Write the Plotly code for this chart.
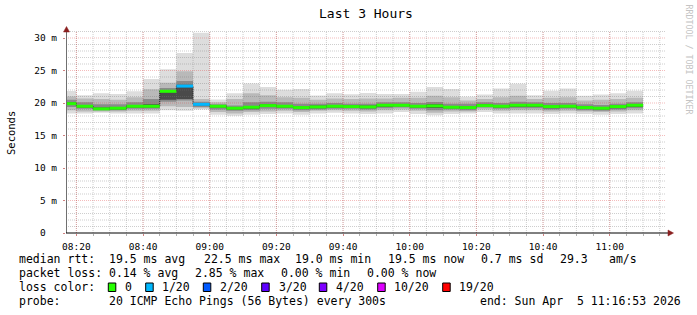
import plotly.graph_objects as go
import pandas as pd

# ---------------- data ----------------
first_step_start = "2026-04-05 08:15:00"
step = "5min"
view_start = "2026-04-05 08:16:53"
view_end = "2026-04-05 11:16:53"

median_ms = [19.9, 19.5, 19.1, 19.2, 19.5, 19.5, 21.8, 22.6, 19.8, 19.5,
             19.2, 19.35, 19.6, 19.5, 19.3, 19.4, 19.5, 19.45, 19.4, 19.65,
             19.65, 19.5, 19.55, 19.35, 19.3, 19.6, 19.5, 19.65, 19.65, 19.45,
             19.5, 19.3, 19.2, 19.45, 19.65]
loss_of_20 = [0, 0, 0, 0, 0, 0, 0, 1, 1, 0,
              0, 0, 0, 0, 0, 0, 0, 0, 0, 0,
              0, 0, 0, 0, 0, 0, 0, 0, 0, 0,
              0, 0, 0, 0, 0]
ping_min_ms = [18.4, 18.4, 18.5, 18.4, 18.4, 18.4, 18.9, 18.8, 19.0, 18.2,
               18.05, 18.2, 18.3, 18.4, 18.2, 18.4, 18.5, 18.4, 18.3, 18.4,
               18.6, 18.3, 18.1, 18.3, 18.4, 18.6, 18.4, 18.4, 18.4, 18.3,
               18.4, 18.3, 18.2, 18.3, 18.4]
ping_max_ms = [21.85, 21.2, 21.5, 21.4, 21.8, 23.7, 25.2, 27.7, 30.8, 20.55,
               21.5, 23.0, 22.45, 22.05, 22.15, 21.15, 21.5, 21.35, 21.55, 21.4,
               21.4, 21.75, 22.45, 22.15, 20.95, 21.3, 22.25, 22.95, 21.2, 21.9,
               22.25, 21.1, 21.3, 21.5, 21.9]
band2_lo_ms = [18.9, 18.7, 18.7, 18.7, 18.8, 18.8, 19.5, 19.4, 19.2, 18.6,
               18.4, 18.6, 18.7, 18.8, 18.6, 18.8, 18.9, 18.8, 18.7, 18.9,
               19.0, 18.8, 18.5, 18.7, 18.7, 19.0, 18.8, 18.9, 18.9, 18.7,
               18.8, 18.7, 18.6, 18.7, 18.9]
band2_hi_ms = [21.0, 20.7, 20.6, 20.5, 20.9, 22.1, 23.1, 24.9, 20.6, 20.1,
               20.6, 21.5, 21.2, 20.9, 20.8, 20.5, 20.7, 20.6, 20.7, 20.7,
               20.8, 20.8, 21.1, 20.9, 20.4, 20.6, 20.9, 21.1, 20.6, 20.8,
               20.9, 20.4, 20.5, 20.6, 20.8]
band3_lo_ms = [19.4, 19.1, 18.9, 18.9, 19.1, 19.1, 20.2, 20.4, 19.4, 19.0,
               18.8, 18.9, 19.1, 19.1, 18.9, 19.0, 19.1, 19.1, 19.0, 19.2,
               19.3, 19.1, 18.9, 19.0, 18.9, 19.3, 19.1, 19.2, 19.2, 19.0,
               19.1, 18.9, 18.8, 19.0, 19.2]
band3_hi_ms = [20.5, 20.1, 19.8, 19.8, 20.1, 20.6, 22.3, 23.4, 20.2, 19.8,
               19.6, 20.1, 20.2, 20.1, 19.9, 19.9, 20.0, 19.9, 19.9, 20.1,
               20.1, 20.0, 20.15, 19.9, 19.9, 20.1, 20.0, 20.2, 20.1, 20.0,
               20.0, 19.8, 19.7, 19.9, 20.1]
band4_lo_ms = [19.7, 19.3, 19.0, 19.0, 19.3, 19.3, 20.5, 20.6, 19.6, 19.3,
               19.0, 19.1, 19.4, 19.3, 19.1, 19.2, 19.3, 19.3, 19.2, 19.4,
               19.5, 19.3, 19.25, 19.2, 19.1, 19.4, 19.3, 19.4, 19.4, 19.2,
               19.3, 19.1, 19.0, 19.2, 19.4]
band4_hi_ms = [20.1, 19.7, 19.3, 19.4, 19.7, 19.8, 22.0, 22.8, 20.0, 19.7,
               19.4, 19.5, 19.8, 19.7, 19.5, 19.6, 19.7, 19.6, 19.6, 19.8,
               19.8, 19.7, 19.8, 19.5, 19.5, 19.8, 19.7, 19.8, 19.8, 19.6,
               19.7, 19.5, 19.4, 19.6, 19.8]

y_tick_values = [0, 5, 10, 15, 20, 25, 30]
y_tick_labels = ["0\u00a0\u00a0", "5 m", "10 m", "15 m", "20 m", "25 m", "30 m"]
x_tick_labels = ["08:20", "08:40", "09:00", "09:20", "09:40", "10:00", "10:20", "10:40", "11:00"]
loss_legend_labels = ["0", "1/20", "2/20", "3/20", "4/20", "10/20", "19/20"]
loss_legend_colors = ["#26ff00", "#00b8ff", "#0059ff", "#5e00ff", "#7e00ff", "#dd00ff", "#ff0000"]
loss_legend_counts = [0, 1, 2, 3, 4, 10, 19]

title_text = "Last 3 Hours"
stat_lines = [
    [("median rtt:", 17), ("19.5 ms avg", 107), ("22.5 ms max", 201.7), ("19.0 ms min", 293.3),
     ("19.5 ms now", 386), ("0.7 ms sd", 479.3), ("29.3", 558.3), ("am/s", 606.7)],
    [("packet loss:", 17), ("0.14 % avg", 107.3), ("2.85 % max", 193), ("0.00 % min", 279),
     ("0.00 % now", 365)],
]
probe_text = "20 ICMP Echo Pings (56 Bytes) every 300s"
end_text = "end: Sun Apr\u00a0\u00a05 11:16:53 2026"

# ---------------- geometry ----------------
W_FIG, H_FIG = 697, 315
ML, MR, MT, MB = 66, 31, 31, 82
PW = W_FIG - ML - MR
PH = H_FIG - MT - MB
PX_PER_MS = 6.5
Y_TOP = PH / PX_PER_MS
BOTTOM_PX = H_FIG - MB

def xp(px):
    return (px - ML) / PW

def yp(py):
    return (BOTTOM_PX - py) / PH

MONO = "DejaVu Sans Mono"

edges = pd.date_range(first_step_start, periods=len(median_ms) + 1, freq=step)

def stepped(vals):
    return list(vals) + [vals[-1]]

fig = go.Figure()

bands = [
    (ping_min_ms, ping_max_ms, "#dddddd"),
    (band2_lo_ms, band2_hi_ms, "#b9b9b9"),
    (band3_lo_ms, band3_hi_ms, "#8a8a8a"),
    (band4_lo_ms, band4_hi_ms, "#4a4a4a"),
]
for lo, hi, col in bands:
    fig.add_trace(go.Scatter(x=edges, y=stepped(lo), mode="lines", line=dict(width=0, shape="hv"),
                             hoverinfo="skip", showlegend=False))
    fig.add_trace(go.Scatter(x=edges, y=stepped(hi), mode="lines", line=dict(width=0, shape="hv"),
                             fill="tonexty", fillcolor=col, hoverinfo="skip", showlegend=False))

# grid (drawn above the smoke, semi-transparent like rrdtool)
minor_v = [t for t in pd.date_range("2026-04-05 08:20", "2026-04-05 11:15", freq="5min")]
major_v = [pd.Timestamp("2026-04-05 " + s) for s in x_tick_labels]
minor_h = [v for v in range(1, 32) if v % 5 != 0]
major_h = [v for v in y_tick_values if v > 0]

def vlines(ts):
    xs, ys = [], []
    for t in ts:
        xs += [t, t, None]
        ys += [0, Y_TOP, None]
    return xs, ys

def hlines(vs):
    xs, ys = [], []
    for v in vs:
        xs += [view_start, view_end, None]
        ys += [v, v, None]
    return xs, ys

GRID_MINOR = "rgba(120,120,120,0.36)"
GRID_MAJOR = "rgba(225,70,70,0.36)"
for (xs, ys), col in [(vlines(minor_v), GRID_MINOR), (hlines(minor_h), GRID_MINOR),
                      (vlines(major_v), GRID_MAJOR), (hlines(major_h), GRID_MAJOR)]:
    fig.add_trace(go.Scatter(x=xs, y=ys, mode="lines", line=dict(color=col, width=1, dash="1px,1px"),
                             hoverinfo="skip", showlegend=False))

# thin dark median step line
fig.add_trace(go.Scatter(x=edges, y=stepped(median_ms), mode="lines",
                         line=dict(color="#202020", width=1, shape="hv", dash="1px,1px"),
                         hoverinfo="skip", showlegend=False))

def loss_color(n):
    col = loss_legend_colors[0]
    for cnt, c in zip(loss_legend_counts, loss_legend_colors):
        if n >= cnt:
            col = c
    return col

groups = {}
for i, m in enumerate(median_ms):
    c = loss_color(loss_of_20[i])
    xs, ys = groups.setdefault(c, ([], []))
    xs += [edges[i], edges[i + 1], None]
    ys += [m, m, None]
for c, (xs, ys) in groups.items():
    fig.add_trace(go.Scatter(x=xs, y=ys, mode="lines", line=dict(color=c, width=3),
                             hoverinfo="skip", showlegend=False))

# ---------------- layout ----------------
fig.update_layout(
    width=W_FIG, height=H_FIG,
    margin=dict(l=ML, r=MR, t=MT, b=MB, pad=0),
    paper_bgcolor="white", plot_bgcolor="white",
    showlegend=False,
    font=dict(family=MONO, color="#000000", size=10),
    xaxis=dict(
        type="date", range=[view_start, view_end],
        tickvals=major_v, ticktext=x_tick_labels,
        showgrid=False, zeroline=False, showline=False,
        ticks="outside", ticklen=2, tickcolor="#d08080",
        tickfont=dict(family=MONO, size=9.5, color="#000000"),
        ticklabelstandoff=3,
        minor=dict(tickvals=minor_v, ticks="outside", ticklen=2, tickcolor="#b0b0b0"),
        fixedrange=True,
    ),
    yaxis=dict(
        range=[0, Y_TOP],
        tickvals=y_tick_values, ticktext=y_tick_labels,
        showgrid=False, zeroline=False, showline=False,
        ticks="outside", ticklen=2, tickcolor="#d08080",
        tickfont=dict(family=MONO, size=9.5, color="#000000"),
        ticklabelstandoff=4,
        fixedrange=True,
    ),
)

ARROW = "#8b2020"
shapes = [
    dict(type="line", xref="paper", yref="paper", x0=xp(66.5), x1=xp(66.5), y0=0, y1=yp(30),
         line=dict(color="#707070", width=1)),
    dict(type="line", xref="paper", yref="paper", x0=0, x1=xp(669), y0=0, y1=0,
         line=dict(color="#000000", width=1)),
    dict(type="path", xref="paper", yref="paper",
         path=f"M {xp(66.5)} {yp(26.5)} L {xp(63.5)} {yp(32)} L {xp(69.5)} {yp(32)} Z",
         fillcolor=ARROW, line=dict(color=ARROW, width=0.5)),
    dict(type="path", xref="paper", yref="paper",
         path=f"M {xp(673.5)} {yp(233)} L {xp(668)} {yp(230)} L {xp(668)} {yp(236)} Z",
         fillcolor=ARROW, line=dict(color=ARROW, width=0.5)),
]

annotations = []

def txt(px, py, s, size=11.5, color="#000000", xanchor="left", angle=0):
    annotations.append(dict(text=s, x=xp(px), y=yp(py), xref="paper", yref="paper",
                            xanchor=xanchor, yanchor="middle", showarrow=False, textangle=angle,
                            font=dict(family=MONO, size=size, color=color)))

txt(366, 13.5, title_text, size=13, xanchor="center")
txt(10.5, 133.5, "Seconds", size=10.5, xanchor="center", angle=-90)
txt(688.5, 59, "RRDTOOL / TOBI OETIKER", size=8.3, color="#c4c4c4", xanchor="center", angle=90)

line_y = [259.3, 273.3, 287.3, 301.0]
for row, items in enumerate(stat_lines):
    for s, px in items:
        txt(px, line_y[row], s)

txt(17, line_y[2], "loss color:")
square_x = [108.3, 145.7, 203.3, 261.7, 319.3, 377.7, 442.7]
label_x = [123.3, 160, 218.3, 276.7, 334, 391.7, 456.7]
for lab, col, sx, lx in zip(loss_legend_labels, loss_legend_colors, square_x, label_x):
    shapes.append(dict(type="rect", xref="paper", yref="paper",
                       x0=xp(sx), x1=xp(sx + 7.5), y0=yp(291.5), y1=yp(283),
                       fillcolor=col, line=dict(color="#000000", width=1)))
    txt(lx, line_y[2], lab)

txt(17, line_y[3], "probe:")
txt(107, line_y[3], probe_text)
txt(478.3, line_y[3], end_text)

fig.update_layout(shapes=shapes, annotations=annotations)
fig.write_html("out.html")
